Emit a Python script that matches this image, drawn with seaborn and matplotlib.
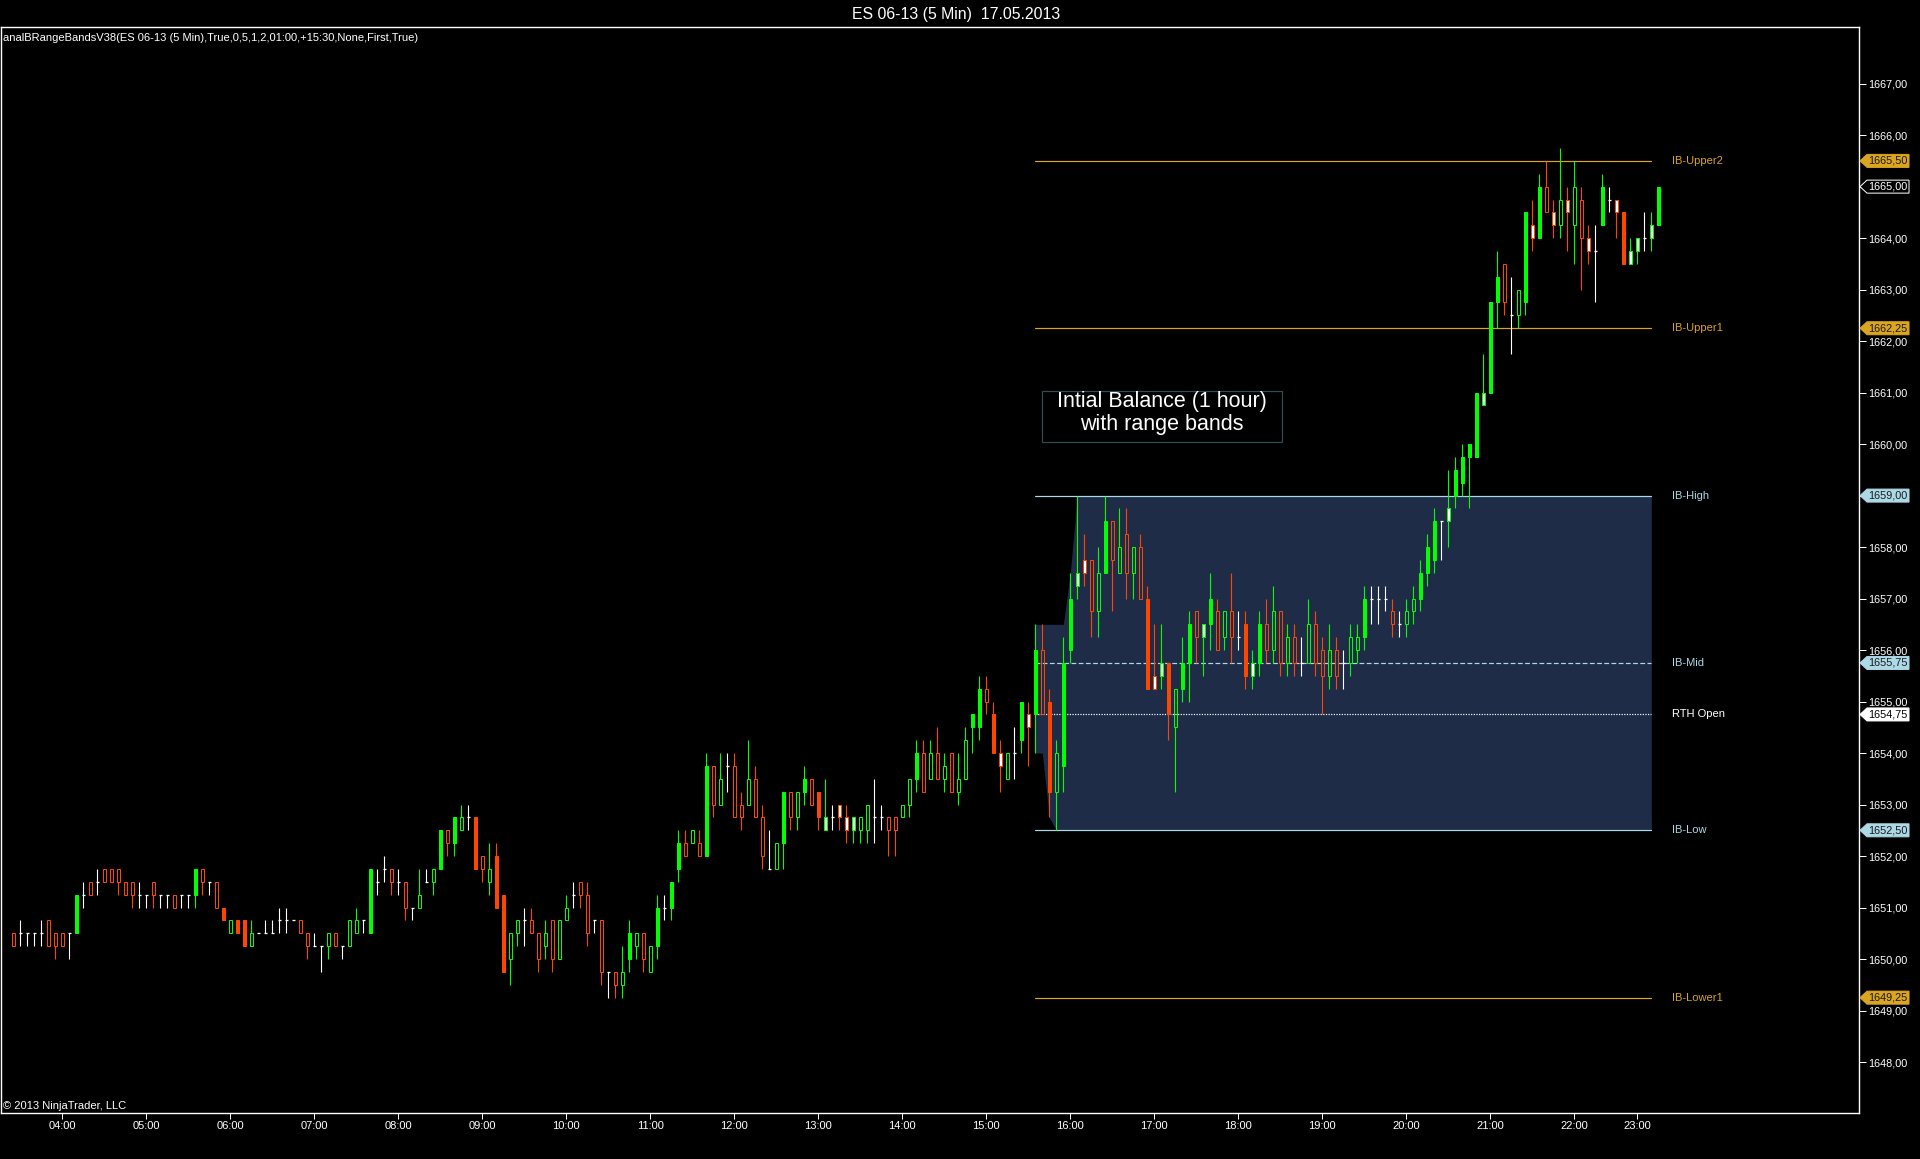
import numpy as np
import pandas as pd
import matplotlib
matplotlib.use("Agg")
import matplotlib.pyplot as plt
import matplotlib.transforms as mtransforms
from matplotlib.patches import Polygon, Rectangle
import seaborn as sns

# ---------------- data (ES 06-13, 5 min bars, 17.05.2013) ----------------
opens = [
    1650.5, 1650.5, 1650.5, 1650.5, 1650.5, 1650.75, 1650.5, 1650.5, 1650.5, 1650.5, 1651.25, 1651.5,
    1651.5, 1651.75, 1651.75, 1651.75, 1651.5, 1651.5, 1651.25, 1651.25, 1651.5, 1651.25, 1651.25, 1651.25,
    1651.25, 1651.25, 1651.25, 1651.75, 1651.5, 1651.5, 1651.0, 1650.5, 1650.75, 1650.75, 1650.25, 1650.5,
    1650.5, 1650.5, 1650.75, 1650.75, 1650.75, 1650.75, 1650.5, 1650.25, 1650.25, 1650.25, 1650.5, 1650.25,
    1650.25, 1650.5, 1650.75, 1650.5, 1651.5, 1651.75, 1651.75, 1651.5, 1651.5, 1651.0, 1651.0, 1651.5,
    1651.5, 1651.75, 1652.5, 1652.25, 1652.5, 1652.75, 1652.75, 1652.0, 1651.5, 1652.0, 1651.25, 1650.0,
    1650.5, 1650.75, 1650.75, 1650.5, 1650.25, 1650.75, 1650.0, 1650.75, 1651.25, 1651.5, 1651.25, 1650.75,
    1650.75, 1649.75, 1649.75, 1649.5, 1650.0, 1650.25, 1650.5, 1649.75, 1650.25, 1651.0, 1651.0, 1651.75,
    1652.25, 1652.25, 1652.25, 1652.0, 1653.75, 1653.0, 1653.75, 1653.75, 1653.0, 1653.0, 1653.5, 1652.75,
    1651.75, 1651.75, 1652.25, 1653.25, 1652.75, 1653.25, 1653.5, 1653.25, 1652.5, 1652.75, 1653.0, 1652.75,
    1652.5, 1652.5, 1652.5, 1652.75, 1652.75, 1652.75, 1652.75, 1652.75, 1653.0, 1653.5, 1654.0, 1653.5,
    1654.0, 1653.5, 1654.0, 1653.25, 1653.5, 1654.5, 1654.5, 1655.25, 1654.75, 1654.0, 1653.5, 1654.0,
    1654.25, 1654.75, 1654.75, 1656.0, 1655.0, 1653.25, 1653.75, 1656.0, 1657.25, 1657.75, 1657.75, 1656.75,
    1657.5, 1658.5, 1657.5, 1658.25, 1657.5, 1658.0, 1657.0, 1655.5, 1655.5, 1655.75, 1654.5, 1655.25,
    1655.75, 1656.75, 1656.25, 1656.5, 1656.75, 1656.25, 1656.75, 1656.25, 1656.5, 1655.5, 1655.75, 1656.5,
    1656.0, 1656.75, 1655.75, 1656.25, 1655.75, 1655.75, 1656.5, 1656.0, 1655.5, 1656.0, 1655.75, 1655.75,
    1656.0, 1656.25, 1657.0, 1657.0, 1657.0, 1656.75, 1656.5, 1656.5, 1656.75, 1657.0, 1657.5, 1657.75,
    1658.5, 1658.5, 1659.0, 1659.25, 1659.75, 1659.75, 1660.75, 1661.0, 1662.75, 1663.5, 1662.5, 1662.5,
    1662.75, 1664.25, 1664.0, 1665.0, 1664.5, 1664.25, 1664.75, 1664.25, 1664.75, 1664.0, 1663.75, 1664.25,
    1664.75, 1664.75, 1664.5, 1663.5, 1663.75, 1664.0, 1664.0, 1664.25,
]
highs = [
    1650.5, 1650.75, 1650.5, 1650.5, 1650.75, 1650.75, 1650.5, 1650.5, 1650.5, 1651.25, 1651.5, 1651.5,
    1651.75, 1651.75, 1651.75, 1651.75, 1651.5, 1651.5, 1651.5, 1651.25, 1651.5, 1651.25, 1651.25, 1651.25,
    1651.25, 1651.25, 1651.75, 1651.75, 1651.5, 1651.5, 1651.0, 1650.75, 1650.75, 1650.75, 1650.75, 1650.5,
    1650.75, 1650.75, 1651.0, 1651.0, 1650.75, 1650.75, 1650.5, 1650.5, 1650.25, 1650.5, 1650.5, 1650.25,
    1650.75, 1651.0, 1650.75, 1651.75, 1651.75, 1652.0, 1651.75, 1651.75, 1651.5, 1651.0, 1651.75, 1651.75,
    1651.75, 1652.5, 1652.5, 1652.75, 1653.0, 1653.0, 1652.75, 1652.0, 1652.25, 1652.25, 1651.25, 1650.5,
    1650.75, 1651.0, 1651.0, 1650.5, 1650.75, 1650.75, 1650.75, 1651.25, 1651.5, 1651.5, 1651.5, 1650.75,
    1650.75, 1649.75, 1649.75, 1650.25, 1650.75, 1650.5, 1650.5, 1650.25, 1651.25, 1651.25, 1651.5, 1652.5,
    1652.5, 1652.5, 1652.5, 1654.0, 1653.75, 1654.0, 1654.0, 1654.0, 1653.25, 1654.25, 1653.75, 1653.0,
    1652.5, 1652.25, 1653.25, 1653.25, 1653.25, 1653.75, 1653.5, 1653.25, 1653.5, 1653.0, 1653.0, 1653.0,
    1652.75, 1652.75, 1653.0, 1653.5, 1653.0, 1652.75, 1652.75, 1653.0, 1653.5, 1654.25, 1654.25, 1654.25,
    1654.5, 1654.0, 1654.0, 1654.0, 1654.5, 1654.75, 1655.5, 1655.5, 1655.0, 1654.25, 1654.0, 1654.5,
    1655.0, 1655.0, 1656.5, 1656.5, 1655.25, 1654.25, 1656.25, 1657.5, 1659.0, 1658.25, 1657.75, 1658.0,
    1659.0, 1658.5, 1658.75, 1658.75, 1658.0, 1658.25, 1657.25, 1656.5, 1656.5, 1655.75, 1655.25, 1656.25,
    1656.75, 1656.75, 1656.5, 1657.5, 1657.0, 1656.75, 1657.5, 1656.75, 1656.75, 1656.0, 1656.75, 1657.0,
    1657.25, 1656.75, 1656.5, 1656.5, 1656.25, 1657.0, 1656.75, 1656.25, 1656.5, 1656.25, 1656.0, 1656.5,
    1656.5, 1657.25, 1657.25, 1657.25, 1657.25, 1657.0, 1656.75, 1657.0, 1657.25, 1657.75, 1658.25, 1658.75,
    1658.5, 1659.5, 1659.75, 1660.0, 1660.0, 1661.0, 1661.75, 1662.75, 1663.75, 1663.5, 1663.25, 1663.0,
    1664.5, 1664.75, 1665.25, 1665.5, 1664.75, 1665.75, 1665.0, 1665.5, 1665.0, 1664.25, 1664.25, 1665.25,
    1665.0, 1664.75, 1664.5, 1664.0, 1664.0, 1664.5, 1664.5, 1665.0,
]
lows = [
    1650.25, 1650.25, 1650.25, 1650.25, 1650.25, 1650.25, 1650.0, 1650.25, 1650.0, 1650.5, 1651.0, 1651.25,
    1651.25, 1651.5, 1651.5, 1651.25, 1651.25, 1651.0, 1651.0, 1651.0, 1651.0, 1651.0, 1651.0, 1651.0,
    1651.0, 1651.0, 1651.0, 1651.25, 1651.25, 1651.0, 1650.75, 1650.5, 1650.5, 1650.25, 1650.25, 1650.5,
    1650.5, 1650.5, 1650.5, 1650.5, 1650.75, 1650.5, 1650.0, 1650.25, 1649.75, 1650.0, 1650.25, 1650.0,
    1650.25, 1650.5, 1650.5, 1650.5, 1651.25, 1651.5, 1651.25, 1651.25, 1650.75, 1650.75, 1651.0, 1651.5,
    1651.25, 1651.75, 1652.0, 1652.0, 1652.5, 1652.5, 1651.75, 1651.5, 1651.25, 1651.0, 1649.75, 1649.5,
    1650.25, 1650.25, 1650.5, 1649.75, 1650.0, 1649.75, 1650.0, 1650.75, 1651.0, 1651.0, 1650.25, 1650.5,
    1649.5, 1649.25, 1649.25, 1649.25, 1649.75, 1650.0, 1649.75, 1649.75, 1650.0, 1650.75, 1650.75, 1651.5,
    1652.0, 1652.25, 1652.0, 1652.0, 1652.75, 1653.0, 1653.25, 1652.75, 1652.5, 1653.0, 1652.75, 1651.75,
    1651.75, 1651.75, 1651.75, 1652.5, 1652.5, 1653.0, 1653.0, 1652.5, 1652.5, 1652.5, 1652.5, 1652.25,
    1652.25, 1652.25, 1652.25, 1652.25, 1652.5, 1652.0, 1652.0, 1652.75, 1652.75, 1653.25, 1653.25, 1653.5,
    1653.5, 1653.25, 1653.25, 1653.0, 1653.5, 1654.0, 1654.25, 1654.75, 1654.0, 1653.25, 1653.5, 1653.5,
    1654.0, 1653.75, 1654.0, 1654.75, 1652.75, 1652.5, 1653.25, 1655.75, 1657.0, 1657.25, 1656.25, 1656.25,
    1657.5, 1656.75, 1657.5, 1657.0, 1657.0, 1657.0, 1655.25, 1655.25, 1655.25, 1654.25, 1653.25, 1655.0,
    1655.0, 1655.75, 1655.5, 1656.0, 1656.0, 1656.0, 1655.75, 1656.0, 1655.25, 1655.25, 1655.5, 1655.75,
    1655.75, 1655.5, 1655.5, 1655.5, 1655.5, 1655.75, 1655.5, 1654.75, 1655.25, 1655.25, 1655.25, 1655.5,
    1655.75, 1656.0, 1656.5, 1656.5, 1656.75, 1656.25, 1656.25, 1656.25, 1656.5, 1656.75, 1657.25, 1657.5,
    1657.75, 1658.0, 1658.75, 1659.0, 1658.75, 1659.75, 1660.75, 1661.0, 1662.25, 1662.5, 1661.75, 1662.25,
    1662.5, 1663.75, 1664.0, 1664.5, 1664.0, 1664.0, 1663.75, 1663.5, 1663.0, 1663.5, 1662.75, 1664.25,
    1664.5, 1664.0, 1663.5, 1663.5, 1663.5, 1663.75, 1663.75, 1664.25,
]
closes = [
    1650.25, 1650.5, 1650.5, 1650.5, 1650.5, 1650.25, 1650.25, 1650.25, 1650.5, 1651.25, 1651.25, 1651.25,
    1651.5, 1651.5, 1651.5, 1651.5, 1651.25, 1651.25, 1651.25, 1651.25, 1651.25, 1651.25, 1651.25, 1651.0,
    1651.25, 1651.25, 1651.75, 1651.5, 1651.5, 1651.0, 1650.75, 1650.75, 1650.5, 1650.25, 1650.5, 1650.5,
    1650.5, 1650.5, 1650.75, 1650.75, 1650.75, 1650.5, 1650.25, 1650.25, 1650.25, 1650.5, 1650.25, 1650.25,
    1650.75, 1650.75, 1650.75, 1651.75, 1651.5, 1651.75, 1651.5, 1651.5, 1651.0, 1651.0, 1651.25, 1651.5,
    1651.75, 1652.5, 1652.25, 1652.75, 1652.75, 1652.75, 1651.75, 1651.75, 1651.75, 1651.0, 1649.75, 1650.5,
    1650.75, 1650.75, 1650.5, 1650.0, 1650.5, 1650.0, 1650.75, 1651.0, 1651.25, 1651.25, 1650.5, 1650.75,
    1649.75, 1649.75, 1649.5, 1649.75, 1650.5, 1650.5, 1650.0, 1650.25, 1651.0, 1651.0, 1651.5, 1652.25,
    1652.0, 1652.5, 1652.0, 1653.75, 1653.0, 1653.5, 1653.75, 1652.75, 1652.75, 1653.5, 1652.75, 1652.0,
    1651.75, 1652.25, 1653.25, 1652.75, 1653.25, 1653.5, 1653.0, 1652.75, 1652.75, 1652.75, 1652.75, 1652.5,
    1652.75, 1652.75, 1653.0, 1652.75, 1652.75, 1652.5, 1652.5, 1653.0, 1653.5, 1654.0, 1653.25, 1654.0,
    1653.5, 1653.75, 1653.25, 1653.5, 1654.25, 1654.75, 1655.25, 1655.0, 1654.0, 1653.75, 1654.0, 1654.0,
    1655.0, 1654.5, 1656.0, 1654.75, 1653.25, 1654.0, 1655.75, 1657.0, 1657.5, 1657.5, 1656.75, 1657.5,
    1658.5, 1657.75, 1658.0, 1657.5, 1658.0, 1657.0, 1655.25, 1655.25, 1655.75, 1654.75, 1655.25, 1655.75,
    1656.5, 1656.25, 1656.5, 1657.0, 1656.0, 1656.75, 1656.25, 1656.25, 1655.5, 1655.75, 1656.5, 1656.0,
    1656.75, 1655.75, 1656.25, 1655.75, 1655.75, 1656.5, 1655.75, 1655.5, 1656.0, 1655.5, 1655.75, 1656.25,
    1656.25, 1657.0, 1657.0, 1657.0, 1657.0, 1656.5, 1656.5, 1656.75, 1657.0, 1657.5, 1658.0, 1658.5,
    1658.5, 1658.75, 1659.5, 1659.75, 1660.0, 1661.0, 1661.0, 1662.75, 1663.25, 1662.75, 1662.5, 1663.0,
    1664.5, 1664.0, 1665.0, 1664.5, 1664.25, 1664.75, 1664.5, 1665.0, 1664.0, 1663.75, 1663.75, 1665.0,
    1664.75, 1664.5, 1663.5, 1663.75, 1664.0, 1664.0, 1664.25, 1665.0,
]
# body look per bar as painted in the reference: F = filled, H = hollow, W = white core, - = doji
bar_fill = (
    "H----HHH-F" "-H-HHHHH--" "H--H--FH-H" "FHFFH-----" "-HH--HH-HH"
    "-F--H-H-H-" "HFHFH-FHHF" "FHH-HHHHHH" "-HH-H-HHFH" "HHF-FFHHHF"
    "HH-HHHHH-H" "FHHFHFW-WW" "WHH--HHHHF" "HHHHHHHFFH" "FWH-FWFHFH"
    "FFWWHHFHHH" "HHFWWFHFFH" "WFHHH-FWFH" "HHHH-HHHHH" "-HHF---H-H"
    "HFFF-WFFFF" "WFFH-HFWFH" "WHWHHW-F-W" "FWW-WF"
)
session_start = "2013-05-17 03:25"
session_end = "2013-05-17 23:15"
halt_start, halt_end = "22:20", "22:30"      # daily Globex maintenance halt
rth_open_time, ib_close_time = "15:35", "16:30"
chart_title = "ES 06-13 (5 Min)  17.05.2013"
indicator_label = "analBRangeBandsV38(ES 06-13 (5 Min),True,0,5,1,2,01:00,+15:30,None,First,True)"
note_text = "Intial Balance (1 hour)\nwith range bands"

# ---------------- style ----------------
BG = "#000000"
GREEN = "#00ff00"
RED = "#ff4500"
GOLD = "#daa520"
LBLUE = "#add8e6"
IBFILL = "#1f2c48"
sns.set_theme(style="dark", rc={
    "figure.facecolor": BG, "axes.facecolor": BG, "axes.edgecolor": "white",
    "text.color": "white", "xtick.color": "white", "ytick.color": "white",
    "axes.labelcolor": "white", "axes.grid": False,
})
plt.rcParams["font.family"] = ["Liberation Sans", "DejaVu Sans"]

W, H = 1920, 1159
fig = plt.figure(figsize=(W / 100, H / 100), dpi=100)
ax_l, ax_r, ax_t, ax_b = 1, 1859, 27, 1113
ax = fig.add_axes([ax_l / W, 1 - ax_b / H, (ax_r - ax_l) / W, (ax_b - ax_t) / H])
ax.set_facecolor(BG)

o = np.array(opens); h = np.array(highs); l = np.array(lows); c = np.array(closes)
n = len(c)
x = np.arange(n)
ts = pd.date_range(session_start, session_end, freq="5min")
hm = ts.strftime("%H:%M")
ts = ts[~((hm >= halt_start) & (hm <= halt_end))]
hm = list(ts.strftime("%H:%M"))

PX = 0.72  # one pixel in points
bw = 0.5
up = c > o
dn = c < o
dj = c == o
col = np.where(up, GREEN, np.where(dn, RED, "white"))
top = np.maximum(o, c)
bot = np.minimum(o, c)

# IB shading (running range while the IB forms, then constant)
i0 = hm.index(rth_open_time)
i1 = hm.index(ib_close_time)
iend = n - 2
run_hi = np.maximum.accumulate(h[i0:i1 + 1])
run_lo = np.minimum.accumulate(l[i0:i1 + 1])
env_hi = np.concatenate([run_hi, np.full(iend - i1, run_hi[-1])])
env_lo = np.concatenate([run_lo, np.full(iend - i1, run_lo[-1])])
xs = x[i0:iend + 1]
ax.fill_between(xs, env_lo, env_hi, color=IBFILL, linewidth=0, zorder=1)

ib_hi, ib_lo = run_hi[-1], run_lo[-1]
rng = ib_hi - ib_lo
levels = [
    ("IB-Upper2", ib_hi + rng, GOLD, "-", GOLD, "#1a1a1a"),
    ("IB-Upper1", ib_hi + 0.5 * rng, GOLD, "-", GOLD, "#1a1a1a"),
    ("IB-High", ib_hi, LBLUE, "-", LBLUE, "#1a1a1a"),
    ("IB-Mid", (ib_hi + ib_lo) / 2, LBLUE, (0, (4, 2)), LBLUE, "#1a1a1a"),
    ("RTH Open", o[i0], "white", (0, (1, 1.2)), "white", "black"),
    ("IB-Low", ib_lo, LBLUE, "-", LBLUE, "#1a1a1a"),
    ("IB-Lower1", ib_lo - 0.5 * rng, GOLD, "-", GOLD, "#1a1a1a"),
]
for name, val, lc, ls, tagc, tagtxt in levels:
    sns.lineplot(x=[x[i0], x[iend]], y=[val, val], color=lc, linewidth=PX * 1.2,
                 linestyle=ls, ax=ax, zorder=2, legend=False)
    ax.text(x[iend] + 3, val, name, color=lc, fontsize=8, ha="left", va="center", zorder=5)

# candles: wicks
ax.vlines(x, top, h, colors=col, linewidth=PX * 1.1, zorder=3)
ax.vlines(x, l, bot, colors=col, linewidth=PX * 1.1, zorder=3)
fl = np.array(list(bar_fill))
for code, face in (("F", None), ("H", "none"), ("W", "white")):
    m = (fl == code) & ~dj
    if not m.any():
        continue
    ax.bar(x[m], (top - bot)[m], bottom=bot[m], width=bw,
           color=(col[m] if face is None else face), edgecolor=col[m],
           linewidth=PX, zorder=4)
ax.hlines(o[dj], x[dj] - bw / 2, x[dj] + bw / 2, colors="white", linewidth=PX * 1.3, zorder=4)

# axes limits (chart keeps empty space to the right, like the original)
x_lo, x_hi = -1.76, 263.67
y_lo, y_hi = 1647.01, 1668.10
ax.set_xlim(x_lo, x_hi)
ax.set_ylim(y_lo, y_hi)

# x ticks: each full hour
tick_idx = [i for i, s in enumerate(hm) if s.endswith(":00")]
ax.set_xticks(tick_idx)
ax.set_xticklabels([hm[i] for i in tick_idx])
ax.tick_params(axis="x", direction="out", length=4, width=PX, pad=1.5, labelsize=8,
               colors="white", bottom=True)
# y ticks on the right
ax.yaxis.tick_right()
yt = np.arange(1648, 1668)
ax.set_yticks(yt)
ax.set_yticklabels([f"{v:.2f}".replace(".", ",") for v in yt])
ax.tick_params(axis="y", direction="out", length=5, width=PX, pad=1.5, labelsize=7.8,
               colors="white", right=True, left=False)
for s in ax.spines.values():
    s.set_color("white")
    s.set_linewidth(1.0)
    s.set_visible(True)
ax.grid(False)

# price tags on the right axis
trans = mtransforms.blended_transform_factory(fig.transFigure, ax.transData)
dpp = (y_hi - y_lo) / (ax_b - ax_t)
hh = 6.5 * dpp
tip, sh, rt = 1860 / W, 1867 / W, 1909 / W
def tag(val, face, txt, edge=None):
    poly = Polygon([(tip, val), (sh, val + hh), (rt, val + hh), (rt, val - hh), (sh, val - hh)],
                   closed=True, transform=trans, facecolor=face,
                   edgecolor=(edge if edge else face), linewidth=PX, zorder=10, clip_on=False)
    fig.add_artist(poly)
    fig.text(1888 / W, 0, f"{val:.2f}".replace(".", ","), transform=trans, fontsize=7.8,
             color=txt, ha="center", va="center", zorder=11).set_y(val)

for name, val, lc, ls, tagc, tagtxt in levels:
    tag(val, tagc, tagtxt)
tag(c[-1], "black", "white", edge="white")

# annotation box
ax.add_patch(Rectangle((146.9, 1660.05), 34.4, 0.99, fill=False, edgecolor="#2f4f4f",
                       linewidth=PX * 1.2, zorder=6))
ax.text(164.1, 1660.60, note_text, ha="center", va="center", fontsize=15.5,
        linespacing=1.12, color="white", zorder=6)

# header / footer texts
fig.text(956 / W, 1 - 14 / H, chart_title, ha="center", va="center", fontsize=11.4, color="white")
fig.text(3 / W, 1 - 38 / H, indicator_label, ha="left", va="center", fontsize=8, color="white")
fig.text(3 / W, 1 - 1106 / H, "\u00a9 2013 NinjaTrader, LLC", ha="left", va="center",
         fontsize=8, color="white")

fig.savefig("out.png", dpi=100, facecolor=BG)
